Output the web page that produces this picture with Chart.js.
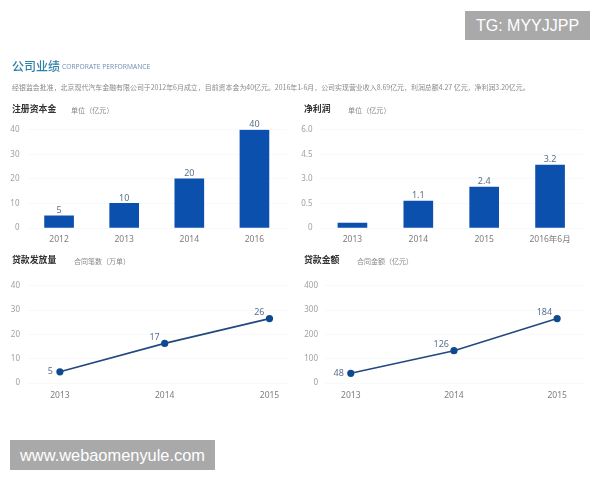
<!DOCTYPE html>
<html lang="zh"><head><meta charset="utf-8">
<script src="https://cdn.jsdelivr.net/npm/chart.js@4/dist/chart.umd.min.js"></script>
<style>
html,body{margin:0;padding:0;background:#fff;width:600px;height:480px;overflow:hidden}
body{font-family:"Noto Sans CJK SC","Noto Sans",sans-serif;position:relative}
#page{position:absolute;left:0;top:0;width:600px;height:480px;filter:blur(.55px)}
.t{position:absolute;white-space:nowrap;line-height:1}
canvas{position:absolute}
.wm{position:absolute;background:#a9a9a9;color:#fff;font-family:"Liberation Sans",sans-serif;display:flex;align-items:center;justify-content:center;white-space:nowrap}
</style></head><body>
<div id="page">
<div class="t" style="left:12px;top:60px;font-size:12px;color:#2f80a8;font-weight:500">公司业绩</div>
<div class="t" style="left:62px;top:64px;font-size:6.7px;color:#6d8cb5;font-family:'Open Sans',sans-serif">CORPORATE PERFORMANCE</div>
<div class="t" style="left:12px;top:84px;font-size:6.95px;color:#8a8a8a">经银监会批准，北京现代汽车金融有限公司于2012年6月成立，目前资本金为40亿元。2016年1-6月，公司实现营业收入8.69亿元，利润总额4.27 亿元，净利润3.20亿元。</div>
<div class="t" style="left:12px;top:105px;font-size:8.9px;color:#333;font-weight:700">注册资本金</div>
<div class="t" style="left:71px;top:107px;font-size:7.1px;color:#888">单位（亿元）</div>
<div class="t" style="left:304px;top:105px;font-size:8.9px;color:#333;font-weight:700">净利润</div>
<div class="t" style="left:348px;top:107px;font-size:7.1px;color:#888">单位（亿元）</div>
<div class="t" style="left:12px;top:256px;font-size:8.9px;color:#333;font-weight:700">贷款发放量</div>
<div class="t" style="left:74px;top:258px;font-size:7px;color:#888">合同笔数（万单）</div>
<div class="t" style="left:304px;top:256px;font-size:8.9px;color:#333;font-weight:700">贷款金额</div>
<div class="t" style="left:357px;top:258px;font-size:7px;color:#888">合同金额（亿元）</div>
<canvas id="c1" width="295" height="132" style="left:0;top:118px"></canvas>
<canvas id="c2" width="300" height="132" style="left:295px;top:118px"></canvas>
<canvas id="c3" width="295" height="130" style="left:0;top:274px"></canvas>
<canvas id="c4" width="300" height="130" style="left:295px;top:274px"></canvas>
</div>
<div class="wm" style="left:465px;top:11px;width:125px;height:29px;font-size:16px">TG: MYYJJPP</div>
<div class="wm" style="left:10px;top:440px;width:205px;height:30px;font-size:16.4px">www.webaomenyule.com</div>
<script>
const capitalYears=['2012','2013','2014','2016'];
const capitalValues=[5,10,20,40];
const capitalLabels=['5','10','20','40'];
const capitalTicks=['0','10','20','30','40'];

const profitYears=['2013','2014','2015','2016年6月'];
const profitValues=[0.3,1.65,2.5,3.85];
const profitLabels=['','1.1','2.4','3.2'];
const profitTicks=['0','0.5','3.0','4.5','6.0'];

const lineYears=[2013,2014,2015];
const loanCountValues=[4.6,16.3,26.5];
const loanCountLabels=['5','17','26'];
const loanCountTicks=['0','10','20','30','40'];

const loanAmountValues=[40,133,265];
const loanAmountLabels=['48','126','184'];
const loanAmountTicks=['0','100','200','300','400'];

const FONT='"Noto Sans","Noto Sans CJK SC",sans-serif';
const BAR='#0b50ad', LINE='#22497f', DOT='#0f4a90', LABEL='#5a6f8c', TICK='#a0a0a0', XTICK='#7d7d7d';

const valueLabels={
  id:'valueLabels',
  afterDatasetsDraw(chart,args,opts){
    const c=chart.ctx, meta=chart.getDatasetMeta(0);
    c.save();c.fillStyle=LABEL;c.font='9px '+FONT;
    meta.data.forEach((el,i)=>{
      const s=opts.labels[i]; if(!s) return;
      if(opts.mode==='bar'){
        c.textAlign='center';c.textBaseline='bottom';
        c.fillText(s,el.x,el.y-1);
      }else{
        c.textAlign='right';c.textBaseline='middle';
        c.fillText(s,i===0?el.x-7:el.x-5,i===0?el.y:el.y-6);
      }
    });
    c.restore();
  }
};

function yAxis(max,step,ticks,width){
  return {min:0,max:max,
    afterBuildTicks(a){a.ticks=ticks.map((_,i)=>({value:i*step}));},
    afterFit(a){a.width=width;},
    grid:{color:'#f8f9fa',drawTicks:false},border:{display:false},
    ticks:{padding:7,color:TICK,font:{size:8,family:FONT},
      callback:(v)=>ticks[Math.round(v/step)]}};
}

function barChart(id,years,values,labels,yMax,yStep,ticks,w,rightPad){
  new Chart(document.getElementById(id),{type:'bar',
    data:{labels:years,datasets:[{data:values,backgroundColor:BAR,barThickness:29}]},
    options:{responsive:false,animation:false,
      layout:{padding:{top:10,right:rightPad,left:0,bottom:0}},
      plugins:{legend:{display:false},tooltip:{enabled:false},valueLabels:{labels,mode:'bar'}},
      scales:{x:{afterFit(a){a.height=22;},grid:{display:false,drawTicks:false},border:{display:false},
          ticks:{padding:6,color:XTICK,font:{size:8.5,family:FONT},maxRotation:0,autoSkip:false}},
        y:yAxis(yMax,yStep,ticks,w)}},
    plugins:[valueLabels]});
}
function lineChart(id,values,labels,yMax,yStep,ticks,w,rightPad,xMin,xMax){
  new Chart(document.getElementById(id),{type:'line',
    data:{datasets:[{data:lineYears.map((x,i)=>({x,y:values[i]})),borderColor:LINE,borderWidth:1.6,
      pointBackgroundColor:DOT,pointBorderColor:DOT,pointRadius:2.8,tension:0}]},
    options:{responsive:false,animation:false,
      layout:{padding:{top:10,right:rightPad,left:0,bottom:0}},
      plugins:{legend:{display:false},tooltip:{enabled:false},valueLabels:{labels,mode:'line'}},
      scales:{x:{type:'linear',min:xMin,max:xMax,afterFit(a){a.height=21;},
          afterBuildTicks(a){a.ticks=lineYears.map(v=>({value:v}));},
          grid:{display:false,drawTicks:false},border:{display:false},
          ticks:{padding:7,color:XTICK,font:{size:8.5,family:FONT},maxRotation:0,callback:v=>String(v)}},
        y:yAxis(yMax,yStep,ticks,w)}},
    plugins:[valueLabels]});
}
barChart('c1',capitalYears,capitalValues,capitalLabels,40,10,capitalTicks,26.5,8);
barChart('c2',profitYears,profitValues,profitLabels,6,1.5,profitTicks,24.5,12);
lineChart('c3',loanCountValues,loanCountLabels,40,10,loanCountTicks,27,5,2012.686,2015.19);
lineChart('c4',loanAmountValues,loanAmountLabels,400,100,loanAmountTicks,30,10,2012.75,2015.27);
</script>
</body></html>
